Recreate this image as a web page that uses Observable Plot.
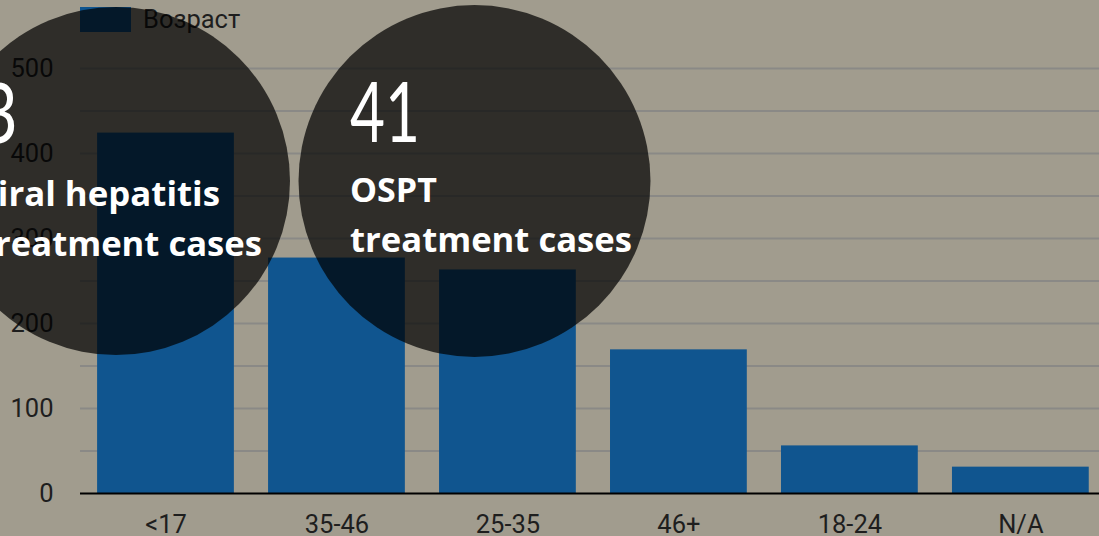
<!DOCTYPE html>
<html><head><meta charset="utf-8">
<script src="https://cdn.jsdelivr.net/npm/d3@7"></script>
<script src="https://cdn.jsdelivr.net/npm/@observablehq/plot@0.6"></script>
<style>
html,body{margin:0;padding:0;background:#a19c8e;}
#wrap{position:relative;width:1099px;height:536px;overflow:hidden;font-family:Roboto,sans-serif;}
#legend{position:absolute;left:80px;top:7px;display:flex;align-items:center;gap:12px;font-size:25.5px;color:#1e1e1e;line-height:25px;}
#legend .sw{width:51px;height:25px;background:#10558f;}
#overlay{position:absolute;left:0;top:0;}
#chart svg{overflow:visible;}
</style></head>
<body>
<div id="wrap">
  <div id="chart"></div>
  <div id="legend"><span class="sw"></span><span>Возраст</span></div>
  <svg id="overlay" width="1099" height="536"></svg>
</div>
<script>
const categories = ["<17", "35-46", "25-35", "46+", "18-24", "N/A"];
const values = [424, 277, 263, 169, 56, 31];
const seriesName = "Возраст";
const yTickLabels = [0, 100, 200, 300, 400, 500];
const gridValues = [50, 100, 150, 200, 250, 300, 350, 400, 450, 500];

const data = categories.map((c, i) => ({cat: c, val: values[i]}));

const chart = Plot.plot({
  width: 1099, height: 536,
  marginLeft: 80, marginRight: 0, marginTop: 68, marginBottom: 43,
  style: {background: "transparent", fontFamily: "Roboto, sans-serif", fontSize: "25.5px", color: "#1e1e1e"},
  x: {domain: categories, paddingInner: 0.2, paddingOuter: 0.08, align: 0.625, round: false, label: null},
  y: {domain: [0, 500], label: null},
  marks: [
    Plot.ruleY(gridValues, {stroke: "#8a8986", strokeWidth: 2}),
    Plot.barY(data, {x: "cat", y: "val", fill: "#10558f"}),
    Plot.ruleY([0], {stroke: "#000", strokeWidth: 2}),
    Plot.axisY({ticks: yTickLabels, tickSize: 0, tickPadding: 27, label: null, fontSize: 25.5}),
    Plot.axisX({tickSize: 0, tickPadding: 21, label: null, fontSize: 25.5})
  ]
});
document.getElementById("chart").appendChild(chart);

// Decorative overlay bubbles (annotation, not data)
const ov = d3.select("#overlay");
const bubbles = [
  {cx: 116, cy: 181, r: 174},
  {cx: 474.5, cy: 181, r: 176}
];
ov.selectAll("circle").data(bubbles).join("circle")
  .attr("cx", d => d.cx).attr("cy", d => d.cy).attr("r", d => d.r)
  .attr("fill", "#000").attr("fill-opacity", 0.71);

const white = "#ffffff";
const bold = (sel) => sel.attr("font-family", "'Open Sans', sans-serif").attr("font-weight", 700)
  .attr("font-size", 34).attr("fill", white);

ov.append("text").attr("x", -22).attr("y", 143).attr("textLength", 40).attr("lengthAdjust", "spacingAndGlyphs")
  .attr("font-family", "Lato, 'Open Sans', sans-serif").attr("font-size", 84).attr("fill", white).text("3");
bold(ov.append("text")).attr("x", -22).attr("y", 206).attr("textLength", 242).attr("lengthAdjust", "spacingAndGlyphs").text("viral hepatitis");
bold(ov.append("text")).attr("x", -20).attr("y", 256).attr("textLength", 282).attr("lengthAdjust", "spacingAndGlyphs").text("treatment cases");

ov.append("text").attr("x", 350).attr("y", 142).attr("textLength", 70).attr("lengthAdjust", "spacingAndGlyphs")
  .attr("font-family", "Lato, 'Open Sans', sans-serif").attr("font-size", 84).attr("fill", white).text("41");
bold(ov.append("text")).attr("x", 350).attr("y", 202).text("OSPT");
bold(ov.append("text")).attr("x", 350).attr("y", 252).attr("textLength", 282).attr("lengthAdjust", "spacingAndGlyphs").text("treatment cases");
</script>
</body></html>
